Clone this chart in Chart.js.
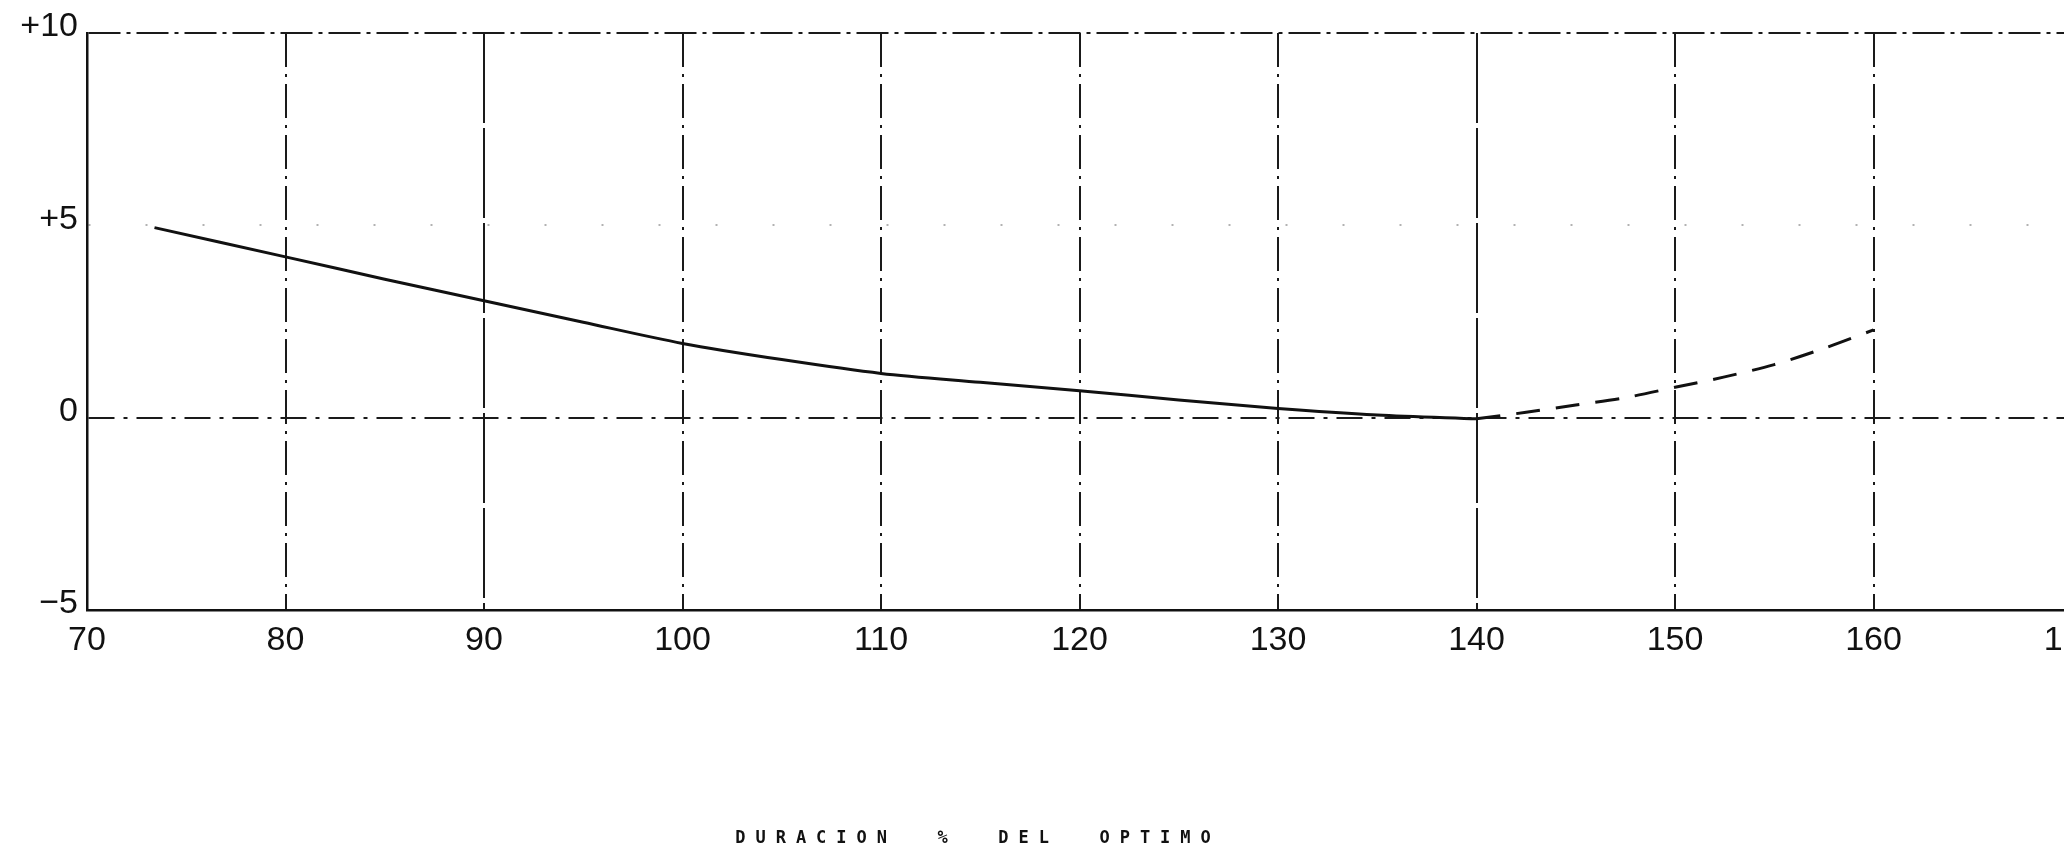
<!DOCTYPE html>
<html>
<head>
<meta charset="utf-8">
<script src="https://cdn.jsdelivr.net/npm/chart.js@4"></script>
<style>
  html, body { margin: 0; padding: 0; background: #fff; overflow: hidden; }
  #wrap { position: relative; width: 2100px; height: 852px; }
</style>
</head>
<body>
<div id="wrap"><canvas id="canvas" width="2100" height="852"></canvas></div>
<script>
// cost deviation vs. duration (% of optimum) - measured part is solid, extrapolated part dashed
const durationSolid = [73.4, 80, 85, 90, 95, 100, 105, 110, 115, 120, 125, 130, 135, 140];
const deltaSolid = [4.94, 4.18, 3.6, 3.04, 2.48, 1.93, 1.51, 1.15, 0.92, 0.7, 0.46, 0.24, 0.07, -0.03];
const durationDashed = [140, 142.5, 145, 147.5, 150, 152.5, 155, 157.5, 160];
const deltaDashed = [-0.03, 0.14, 0.33, 0.52, 0.79, 1.06, 1.38, 1.8, 2.28];

const yTickValues = [-5, 0, 5, 10];
const yTickLabels = ["\u22125", "0", "+5", "+10"];
const xAxisTitle = "DURACION  %  DEL  OPTIMO";

const toPoints = (xs, ys) => xs.map((x, i) => ({ x: x, y: ys[i] }));

const tickFont = { family: "'Liberation Sans', Arial, sans-serif", size: 34 };

// caption under the axis, spaced out like the plotter lettering
const captionPlugin = {
  id: "caption",
  afterDraw(chart) {
    const ctx = chart.ctx;
    ctx.save();
    ctx.font = "bold 17px 'DejaVu Sans Mono', monospace";
    ctx.letterSpacing = "10px";
    ctx.fillStyle = "#111";
    ctx.textAlign = "center";
    ctx.textBaseline = "middle";
    ctx.fillText(xAxisTitle, 978, 839);
    ctx.restore();
  },
};

let ctx = document.getElementById("canvas");
let myChart = new Chart(ctx, {
  type: "line",
  data: {
    datasets: [
      {
        data: toPoints(durationSolid, deltaSolid),
        borderColor: "#111",
        borderWidth: 3,
        pointRadius: 0,
        tension: 0.3,
        fill: false,
      },
      {
        data: toPoints(durationDashed, deltaDashed),
        borderColor: "#111",
        borderWidth: 3,
        borderDash: [24, 16],
        pointRadius: 0,
        tension: 0.3,
        fill: false,
      },
    ],
  },
  options: {
    responsive: false,
    animation: false,
    layout: { padding: { top: 33, right: 28, left: 0, bottom: 0 } },
    plugins: {
      legend: { display: false },
      tooltip: { enabled: false },
    },
    scales: {
      x: {
        type: "linear",
        min: 70,
        max: 170,
        ticks: {
          stepSize: 10,
          color: "#111",
          font: tickFont,
          padding: 10,
          maxRotation: 0,
        },
        grid: {
          drawTicks: false,
          lineWidth: 2,
          color: (c) => (c.tick && c.tick.value === 70 ? "rgba(0,0,0,0)" : "#1a1a1a"),
        },
        border: {
          display: true,
          color: "#111",
          width: 2.5,
          dash: (c) =>
            c.tick && (c.tick.value === 90 || c.tick.value === 140)
              ? [90, 5]
              : [34, 7, 3, 7],
        },
        afterFit: (s) => {
          s.height = 242;
          s.paddingRight = 0;
        },
      },
      y: {
        min: -5,
        max: 10,
        ticks: {
          stepSize: 5,
          color: "#111",
          font: tickFont,
          padding: 9,
          labelOffset: -6,
          callback: (v) => yTickLabels[yTickValues.indexOf(v)],
        },
        grid: {
          drawTicks: false,
          lineWidth: 2,
          color: (c) => {
            if (c.tick && c.tick.value === 5) return "rgba(0,0,0,0.3)";
            return "#1a1a1a";
          },
        },
        border: {
          display: true,
          color: "#111",
          width: 2.5,
          dash: (c) => {
            if (!c.tick) return [];
            if (c.tick.value === 5) return [2, 55];
            if (c.tick.value === 0) return [26, 9, 4, 9];
            if (c.tick.value === -5) return [80, 4];
            return [32, 6, 4, 6];
          },
        },
        afterFit: (s) => {
          s.width = 87;
        },
      },
    },
  },
  plugins: [captionPlugin],
});
</script>
</body>
</html>
